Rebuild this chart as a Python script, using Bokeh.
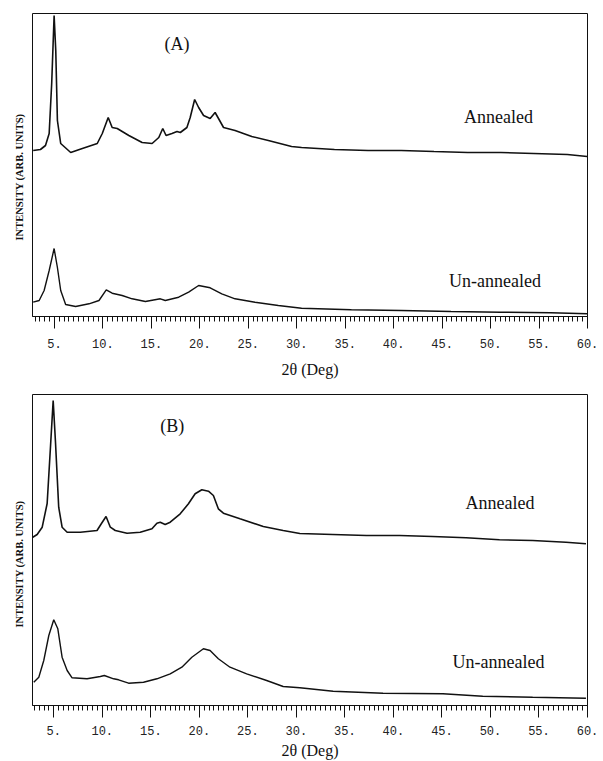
import numpy as np
from bokeh.plotting import figure
from bokeh.layouts import column
from bokeh.models import Range1d, FixedTicker, Label, Title
from bokeh.embed import file_html
from bokeh.resources import INLINE

# ---------------- data ----------------
tick_values = [5, 10, 15, 20, 25, 30, 35, 40, 45, 50, 55, 60]
tick_labels = ["5.", "10.", "15.", "20.", "25.", "30.", "35.", "40.", "45.", "50.", "55.", "60."]
x_title = "2θ (Deg)"
y_title = "INTENSITY (ARB. UNITS)"
panel_titles = ["(A)", "(B)"]
series_names = ["Annealed", "Un-annealed"]

# Panel A, annealed
a_ann_x = [2.81, 3.56, 4.08, 4.46, 4.72, 4.97, 5.14, 5.31, 5.65, 6.68, 7.88, 9.42, 9.94,
           10.55, 10.96, 11.48, 12.68, 14.05, 15.08, 15.77, 16.18, 16.52, 17.13, 17.65,
           17.99, 18.67, 19.01, 19.47, 19.88, 20.39, 21.07, 21.58, 21.93, 22.45, 23.64,
           25.36, 27.07, 29.47, 30.50, 33.89, 37.36, 40.78, 44.17, 47.64, 51.06, 54.45,
           57.92, 59.97]
a_ann_y = [166, 167, 171, 183, 233, 301, 266, 196, 173, 164, 168, 173, 183,
           199, 189, 188, 181, 174, 173, 179, 188, 181, 183, 185,
           184, 189, 199, 217, 209, 201, 198, 204, 198, 189, 186,
           180, 176, 170, 169, 167, 166, 166, 165, 164, 164, 163,
           162, 160]

# Panel A, un-annealed
a_un_x = [2.81, 3.43, 3.94, 4.46, 4.97, 5.31, 5.65, 6.16, 7.19, 8.57, 9.60, 10.35, 10.96,
          11.99, 13.02, 14.39, 15.93, 16.44, 17.82, 18.85, 19.88, 21.07, 22.27, 23.64,
          25.70, 28.10, 30.50, 35.64, 40.78, 45.92, 51.06, 56.20, 59.97]
a_un_y = [14.3, 16, 26, 46, 68, 49, 26, 12, 10, 12.7, 16, 26.7, 23.3,
          21, 17.7, 15, 17.7, 16, 19.3, 24.3, 31, 28.7, 22.7, 17.7,
          14.3, 11, 8.3, 6.7, 6, 5, 4.3, 3.7, 2.7]

# Panel B, annealed
b_ann_x = [2.84, 3.29, 3.81, 4.32, 4.66, 4.94, 5.17, 5.51, 5.86, 6.38, 7.74, 9.46, 9.90,
           10.39, 10.83, 11.34, 12.55, 13.91, 15.12, 15.63, 15.97, 16.48, 17.00, 18.03,
           18.88, 19.57, 20.26, 20.94, 21.45, 21.96, 22.48, 24.19, 26.59, 28.64, 30.36,
           33.76, 37.22, 40.64, 44.03, 47.50, 50.93, 54.35, 57.78, 59.84]
b_ann_y = [168.3, 171, 178.3, 202, 258.3, 305, 265, 198.3, 178.3, 173.3, 173.3, 175, 181.7,
           189, 178.3, 175, 172.3, 173.3, 176.7, 182.3, 183.3, 181, 183.3, 191.7,
           201.7, 211.7, 215.7, 214.3, 210, 196.7, 192.3, 186.7, 179, 175, 172,
           171, 170, 170, 169, 167.7, 165.7, 165, 163.3, 161.7]

# Panel B, un-annealed
b_un_x = [2.94, 3.46, 3.97, 4.49, 5.00, 5.42, 5.86, 6.38, 6.89, 8.43, 9.80, 10.21, 11.17,
          11.68, 12.71, 14.25, 15.63, 17.00, 18.20, 19.23, 20.42, 21.11, 21.96, 23.16,
          24.88, 26.94, 28.64, 30.36, 33.79, 38.93, 45.10, 49.20, 54.35, 59.84]
b_un_y = [23.3, 28.3, 45, 70, 85.7, 76.7, 48.3, 35, 27.7, 26.7, 29, 30, 26.7,
          25.7, 22.3, 23.3, 26.7, 31.7, 38.3, 48.3, 56.7, 55, 46.7, 38.3,
          31.7, 25, 19, 17.7, 14.3, 12.3, 11.7, 9.3, 8.3, 7.3]

minor_ticks = list(np.arange(3.0, 60.01, 0.5))
overrides = {v: s for v, s in zip(tick_values, tick_labels)}

SERIF = "Liberation Serif"
MONO = "Liberation Mono"


def make_panel(height, left, right, top, bottom, x0, ytop, label_standoff,
               title_standoff, ann, un, title, title_xy, ann_xy, un_xy, ylab_offset):
    p = figure(width=603, height=height, output_backend="svg", toolbar_location=None,
               x_range=Range1d(x0, 60), y_range=Range1d(0, ytop),
               min_border_left=left, min_border_right=right,
               min_border_top=top, min_border_bottom=bottom)
    p.background_fill_color = "white"
    p.border_fill_color = "white"
    p.outline_line_color = "#111111"
    p.outline_line_width = 1
    p.xgrid.visible = False
    p.ygrid.visible = False
    p.yaxis.visible = False

    ax = p.xaxis[0]
    ax.ticker = FixedTicker(ticks=tick_values, minor_ticks=minor_ticks)
    ax.major_label_overrides = overrides
    ax.axis_line_color = "#111111"
    ax.major_tick_line_color = "#111111"
    ax.minor_tick_line_color = "#111111"
    ax.major_tick_out = 12
    ax.major_tick_in = 0
    ax.minor_tick_out = 5
    ax.minor_tick_in = 0
    ax.major_label_standoff = label_standoff
    ax.major_label_text_font = MONO
    ax.major_label_text_font_size = "12px"
    ax.major_label_text_color = "#222222"
    ax.axis_label = x_title
    ax.axis_label_text_font = SERIF
    ax.axis_label_text_font_size = "16px"
    ax.axis_label_text_font_style = "normal"
    ax.axis_label_text_color = "#111111"
    ax.axis_label_standoff = title_standoff

    p.line(ann[0], ann[1], line_color="#111111", line_width=1.6)
    p.line(un[0], un[1], line_color="#111111", line_width=1.4)

    p.add_layout(Label(x=title_xy[0], y=title_xy[1], text=title, text_font=SERIF,
                       text_font_size="18px", text_align="center",
                       text_baseline="middle", text_color="#111111"))
    p.add_layout(Label(x=ann_xy[0], y=ann_xy[1], text=series_names[0], text_font=SERIF,
                       text_font_size="18px", text_align="left",
                       text_baseline="middle", text_color="#111111"))
    p.add_layout(Label(x=un_xy[0], y=un_xy[1], text=series_names[1], text_font=SERIF,
                       text_font_size="18px", text_align="left",
                       text_baseline="middle", text_color="#111111"))
    p.add_layout(Title(text=y_title, text_font=SERIF, text_font_size="10.5px",
                       text_font_style="bold", text_color="#111111",
                       align="left", offset=ylab_offset, standoff=16), "left")
    return p


pA = make_panel(385, 30, 16, 13, 69, 2.74, 303, 10, 10,
                (a_ann_x, a_ann_y), (a_un_x, a_un_y), panel_titles[0],
                (17.65, 273), (47.26, 200), (45.71, 36), 76)
pB = make_panel(376, 32, 14, 9, 56, 2.81, 311, 8, 4,
                (b_ann_x, b_ann_y), (b_un_x, b_un_y), panel_titles[1],
                (17.2, 280), (47.43, 203), (46.09, 44), 78)

layout = column(pA, pB, spacing=0)
open("out.html", "w").write(file_html(layout, INLINE))
